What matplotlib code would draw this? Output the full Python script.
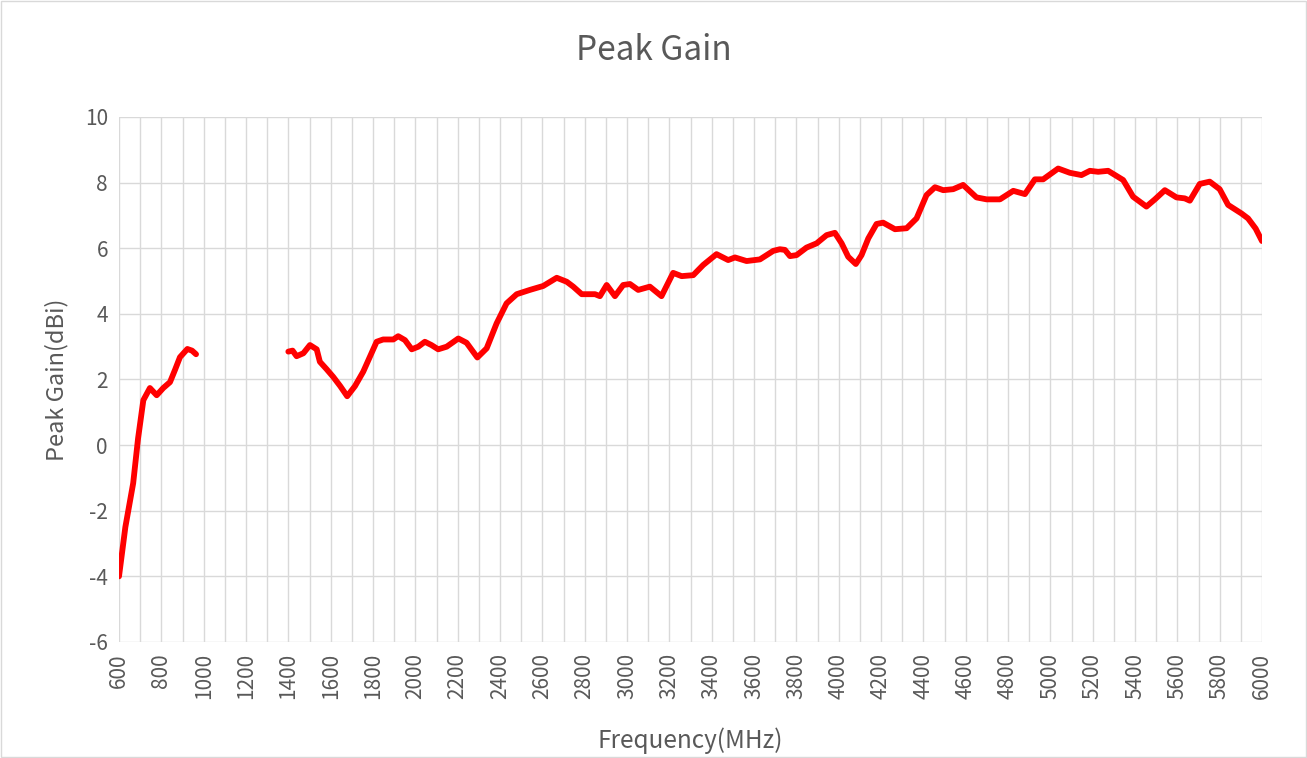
import matplotlib.pyplot as plt
from matplotlib.patches import Rectangle

plt.rcParams['font.family'] = ['Noto Sans CJK SC', 'DejaVu Sans']
plt.rcParams['axes.unicode_minus'] = False

# Low band segment (MHz, dBi)
freq_low = [600, 630, 667, 690, 715, 746, 778, 809, 841, 865, 888, 923, 945, 964]
gain_low = [-4.0, -2.5, -1.16, 0.2, 1.37, 1.74, 1.52, 1.74, 1.92, 2.3, 2.68, 2.93, 2.88, 2.77]

# Upper segment (MHz, dBi)
freq_high = [1400, 1420, 1439, 1471, 1502, 1534, 1549, 1580, 1612, 1645, 1678, 1715, 1754,
             1817, 1848, 1896, 1919, 1951, 1983, 2014, 2045, 2076, 2108, 2148, 2203,
             2242, 2293, 2337, 2384, 2431, 2479, 2541, 2604, 2668, 2715, 2746, 2786,
             2849, 2872, 2904, 2943, 2982, 3014, 3053, 3108, 3163, 3218, 3258, 3313,
             3360, 3423, 3478, 3510, 3565, 3628, 3691, 3722, 3746, 3770, 3801, 3848,
             3896, 3943, 3982, 4014, 4045, 4081, 4108, 4140, 4179, 4210, 4266, 4321,
             4368, 4415, 4455, 4494, 4541, 4588, 4651, 4699, 4762, 4825, 4880, 4927,
             4966, 5037, 5092, 5147, 5187, 5226, 5273, 5344, 5391, 5454, 5494, 5541,
             5596, 5635, 5659, 5706, 5753, 5800, 5840, 5903, 5934, 5970, 6000]
gain_high = [2.85, 2.88, 2.71, 2.80, 3.05, 2.92, 2.54, 2.32, 2.08, 1.80, 1.49, 1.80, 2.24,
             3.15, 3.22, 3.22, 3.32, 3.20, 2.92, 3.00, 3.15, 3.05, 2.92, 3.00, 3.25,
             3.12, 2.67, 2.95, 3.71, 4.32, 4.60, 4.73, 4.85, 5.10, 4.98, 4.83, 4.60,
             4.60, 4.54, 4.88, 4.54, 4.88, 4.91, 4.73, 4.83, 4.54, 5.25, 5.15, 5.18,
             5.49, 5.82, 5.64, 5.72, 5.61, 5.66, 5.92, 5.97, 5.95, 5.76, 5.79, 6.02,
             6.15, 6.40, 6.47, 6.15, 5.74, 5.52, 5.79, 6.30, 6.74, 6.78, 6.58, 6.61,
             6.91, 7.62, 7.86, 7.77, 7.80, 7.93, 7.55, 7.49, 7.49, 7.75, 7.65, 8.10,
             8.10, 8.43, 8.30, 8.23, 8.36, 8.33, 8.36, 8.08, 7.57, 7.27, 7.49, 7.77,
             7.55, 7.52, 7.45, 7.96, 8.03, 7.80, 7.32, 7.06, 6.91, 6.60, 6.22]

x_ticks = list(range(600, 6001, 200))
y_ticks = list(range(-6, 11, 2))

fig = plt.figure(figsize=(13.07, 7.58), dpi=100)
ax = fig.add_axes([119 / 1307, 1 - 642 / 758, (1262 - 119) / 1307, (642 - 117) / 758])

for fx, gy in [(freq_low, gain_low), (freq_high, gain_high)]:
    ax.plot(fx, gy, color='#FF0000', lw=4.2, solid_capstyle='round',
            solid_joinstyle='round', zorder=3)

ax.set_xlim(600, 6000)
ax.set_ylim(-6, 10)
ax.set_xticks(x_ticks)
ax.set_xticks(range(700, 6000, 200), minor=True)
ax.set_yticks(y_ticks)
ax.grid(True, which='both', color='#D9D9D9', lw=1.0, zorder=0)
for s in ax.spines.values():
    s.set_visible(False)
ax.tick_params(which='both', length=0, colors='#595959', labelsize=15)
ax.tick_params(axis='x', rotation=90, pad=8)
ax.tick_params(axis='y', pad=8)

ax.set_xlabel('Frequency(MHz)', fontsize=17.5, color='#595959', labelpad=20)
ax.set_ylabel('Peak Gain(dBi)', fontsize=17, color='#595959', labelpad=12)
fig.text(0.5, 1 - 50 / 758, 'Peak Gain', ha='center', va='center', fontsize=24,
         color='#595959')

fig.patches.append(Rectangle((0.001, 0.001), 0.998, 0.998, transform=fig.transFigure,
                             fill=False, edgecolor='#D9D9D9', lw=1))

fig.savefig('out.png', dpi=100)
